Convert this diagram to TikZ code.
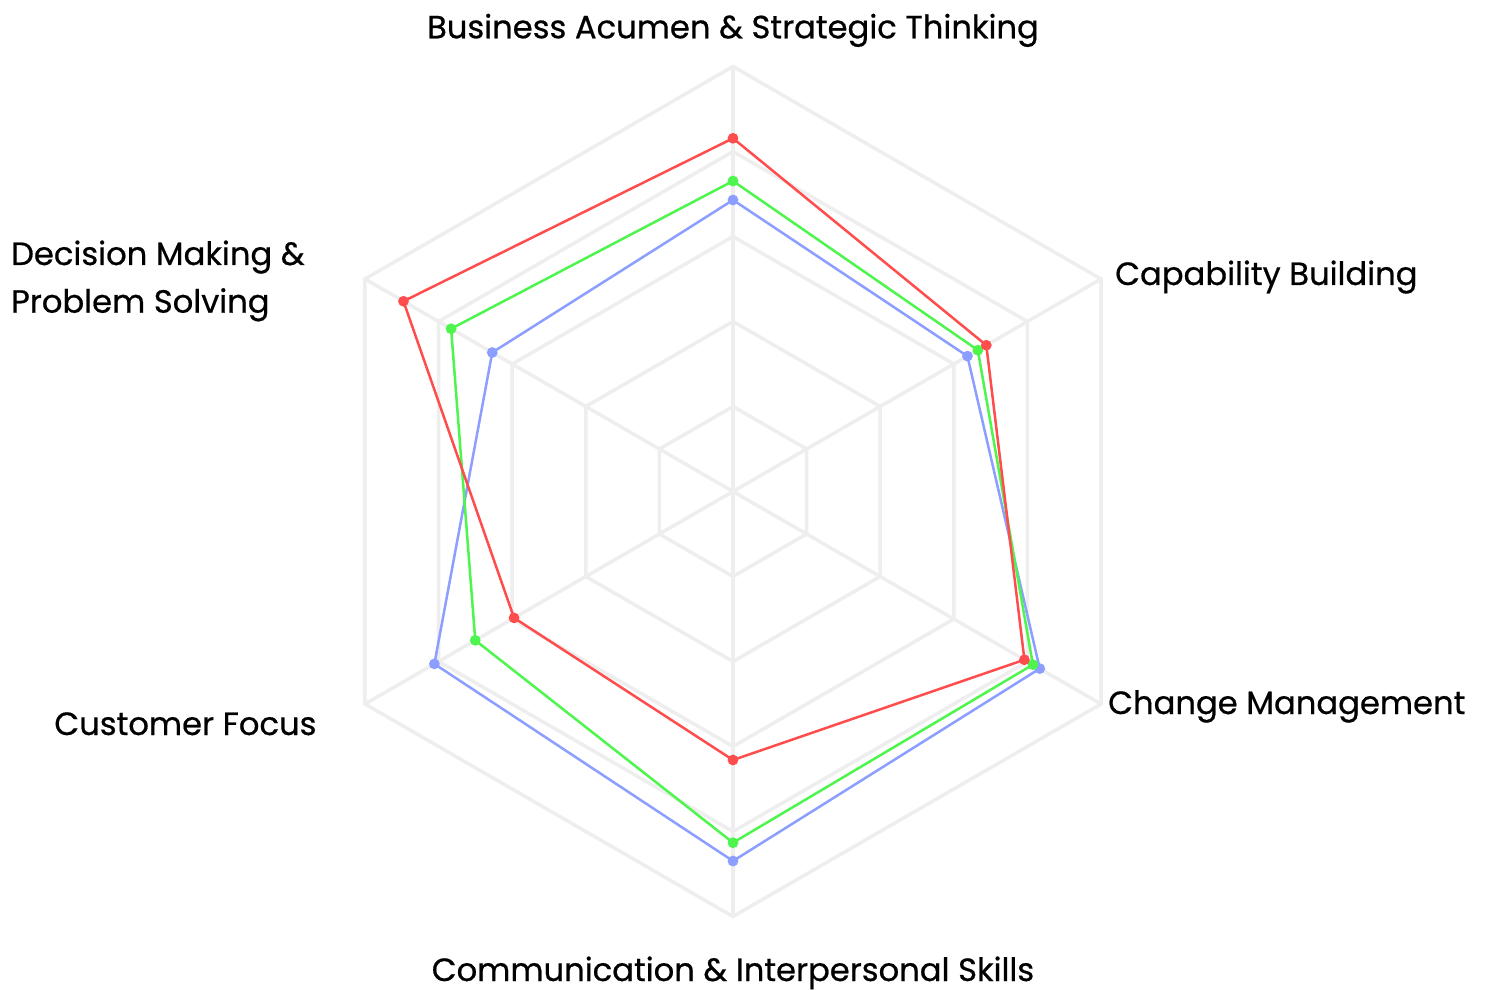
\documentclass[tikz,border=0pt]{standalone}
\usepackage{fontspec}
\setmainfont{Poppins}[FakeBold=0.6]
\definecolor{gridc}{RGB}{238,238,238}
\definecolor{redc}{RGB}{255,77,77}
\definecolor{greenc}{RGB}{77,245,77}
\definecolor{bluec}{RGB}{140,158,255}
\begin{document}
\begin{tikzpicture}[x=1pt,y=1pt,
  gridline/.style={draw=gridc,line width=3.5pt},
  series/.style={line width=2.5pt,line join=round},
  lab/.style={font=\fontsize{32.2}{38}\selectfont,inner sep=0pt,text=black}]
\useasboundingbox[fill=white] (-733,-498.5) rectangle (752,491.5);
\coordinate (O) at (0,0);
% grid
\foreach \r in {85,170,255,340,425}{
  \draw[gridline] (90:\r) -- (30:\r) -- (-30:\r) -- (-90:\r) -- (-150:\r) -- (150:\r) -- cycle;
}
\foreach \a in {90,30,-30,-90,-150,150}{
  \draw[gridline] (O) -- (\a:425);
}
% series: blue
\draw[series,draw=bluec] (90:291.5) -- (30:270.7) -- (-30:354.2) -- (-90:369.5) -- (-150:344.8) -- (150:278) -- cycle;
\foreach \a/\r in {90/291.5,30/270.7,-30/354.2,-90/369.5,-150/344.8,150/278}{
  \fill[bluec] (\a:\r) circle (5.4);
}
% green
\draw[series,draw=greenc] (90:310.5) -- (30:282.7) -- (-30:346.3) -- (-90:351.2) -- (-150:297.6) -- (150:325.5) -- cycle;
\foreach \a/\r in {90/310.5,30/282.7,-30/346.3,-90/351.2,-150/297.6,150/325.5}{
  \fill[greenc] (\a:\r) circle (5.4);
}
% red
\draw[series,draw=redc] (90:353.2) -- (30:292.5) -- (-30:336.5) -- (-90:268.5) -- (-150:252.8) -- (150:380.5) -- cycle;
\foreach \a/\r in {90/353.2,30/292.5,-30/336.5,-90/268.5,-150/252.8,150/380.5}{
  \fill[redc] (\a:\r) circle (5.4);
}
% labels
\node[lab,anchor=base] (l1) at (0,453.2) {Business Acumen \& Strategic Thinking};
\node[lab,anchor=base west] (l2) at (382,206.5) {Capability Building};
\node[lab,anchor=base west] (l3) at (375,-222.5) {Change Management};
\node[lab,anchor=base] (l4) at (0,-489.5) {Communication \& Interpersonal Skills};
\node[lab,anchor=base east] (l5) at (-416.3,-243.5) {Customer Focus};
\node[lab,anchor=base west] (l6a) at (-722,226.5) {Decision Making \&};
\node[lab,anchor=base west] (l6b) at (-722,178.8) {Problem Solving};
\end{tikzpicture}
\end{document}
